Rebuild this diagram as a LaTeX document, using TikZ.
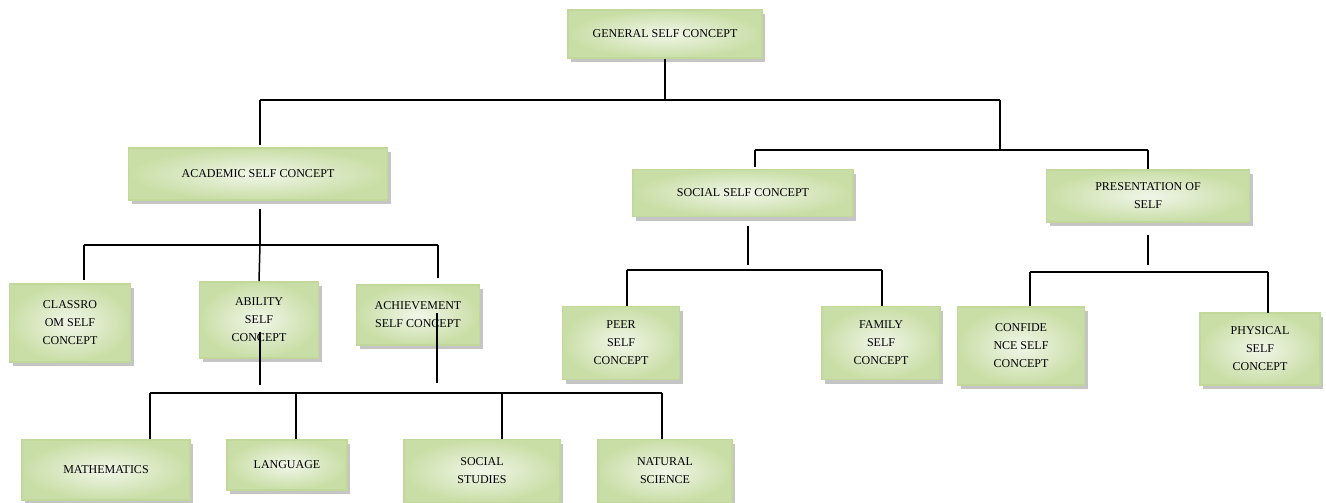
\documentclass[tikz,border=0pt]{standalone}
\usepackage{fontspec}
\setmainfont{Liberation Serif}
\usetikzlibrary{shadows}
\definecolor{boxedge}{HTML}{C2D89A}
\definecolor{boxin}{HTML}{F1F6E9}
\definecolor{boxout}{HTML}{C9DEA6}
\tikzset{
  cbox/.style={draw=boxedge, line width=1.6pt, shading=radial, inner color=boxin, outer color=boxout,
    align=center, font=\fontsize{12}{18}\selectfont, inner sep=2pt,
    drop shadow={shadow xshift=3pt, shadow yshift=-4pt, fill=black!45, opacity=0.5}},
  link/.style={line width=1.5pt, black}
}
\newcommand{\bx}[6]{\node[cbox, minimum width=#4pt, minimum height=#5pt] (#1) at (#2,#3) {#6};}
\begin{document}
\begin{tikzpicture}[x=1pt, y=-1pt]
\useasboundingbox (0,0) rectangle (1326,503);
% nodes
\bx{gen}{665}{34}{194}{48}{GENERAL SELF CONCEPT}
\bx{acad}{258}{174}{259}{52}{ACADEMIC SELF CONCEPT}
\bx{soc}{743}{193}{220}{47}{SOCIAL SELF CONCEPT}
\bx{pres}{1148}{196}{203}{52}{PRESENTATION OF\\SELF}
\bx{cls}{70}{323}{121}{78}{CLASSRO\\OM SELF\\CONCEPT}
\bx{abil}{259}{320}{119}{76}{ABILITY\\SELF\\CONCEPT}
\bx{ach}{418}{315}{123}{60}{ACHIEVEMENT\\SELF CONCEPT}
\bx{peer}{621}{343}{117}{73}{PEER\\SELF\\CONCEPT}
\bx{fam}{881}{343}{118}{73}{FAMILY\\SELF\\CONCEPT}
\bx{conf}{1021}{346}{127}{78}{CONFIDE\\NCE SELF\\CONCEPT}
\bx{phys}{1260}{349}{120}{72}{PHYSICAL\\SELF\\CONCEPT}
\bx{math}{106}{470}{168}{60}{MATHEMATICS}
\bx{lang}{287}{465}{120}{50}{LANGUAGE}
\bx{sstud}{482}{471}{156}{63}{SOCIAL\\STUDIES}
\bx{nat}{665}{471}{134}{63}{NATURAL\\SCIENCE}
% junction coordinates
\coordinate (j1) at (665,100);
\coordinate (j1l) at (260,100);
\coordinate (j1r) at (1000,100);
\coordinate (j1rb) at (1000,150);
\coordinate (j2l) at (755,150);
\coordinate (j2r) at (1148,150);
\coordinate (a0) at (260,209);
\coordinate (a1) at (260,245);
\coordinate (a1l) at (84,245);
\coordinate (a1r) at (438,245);
\coordinate (b1) at (260,332);
\coordinate (b2) at (260,385);
\coordinate (c1) at (437,313);
\coordinate (c2) at (437,383);
\coordinate (d1) at (150,393);
\coordinate (d2) at (296,393);
\coordinate (d3) at (502,393);
\coordinate (d4) at (662,393);
\coordinate (s0) at (748,226);
\coordinate (s1) at (748,265);
\coordinate (s2l) at (627,270);
\coordinate (s2r) at (882,270);
\coordinate (p0) at (1148,235);
\coordinate (p1) at (1148,265);
\coordinate (p2l) at (1030,272);
\coordinate (p2r) at (1268,272);
% connectors
\draw[link] (gen.south) -- (j1);
\draw[link] (j1l) -- (j1r);
\draw[link] (j1l) -- (260,145);
\draw[link] (j1r) -- (j1rb);
\draw[link] (j2l) -- (j2r);
\draw[link] (j2l) -- (755,167);
\draw[link] (j2r) -- (pres.north);
\draw[link] (a0) -- (a1);
\draw[link] (a1l) -- (a1r);
\draw[link] (a1l) -- (84,280);
\draw[link] (a1) -- (abil.north);
\draw[link] (a1r) -- (438,278);
\draw[link] (b1) -- (b2);
\draw[link] (c1) -- (c2);
\draw[link] (d1) -- (d4);
\draw[link] (d1) -- (d1 |- math.north);
\draw[link] (d2) -- (d2 |- lang.north);
\draw[link] (d3) -- (d3 |- sstud.north);
\draw[link] (d4) -- (d4 |- nat.north);
\draw[link] (s0) -- (s1);
\draw[link] (s2l) -- (s2r);
\draw[link] (s2l) -- (s2l |- peer.north);
\draw[link] (s2r) -- (s2r |- fam.north);
\draw[link] (p0) -- (p1);
\draw[link] (p2l) -- (p2r);
\draw[link] (p2l) -- (p2l |- conf.north);
\draw[link] (p2r) -- (1268,313);
\end{tikzpicture}
\end{document}
